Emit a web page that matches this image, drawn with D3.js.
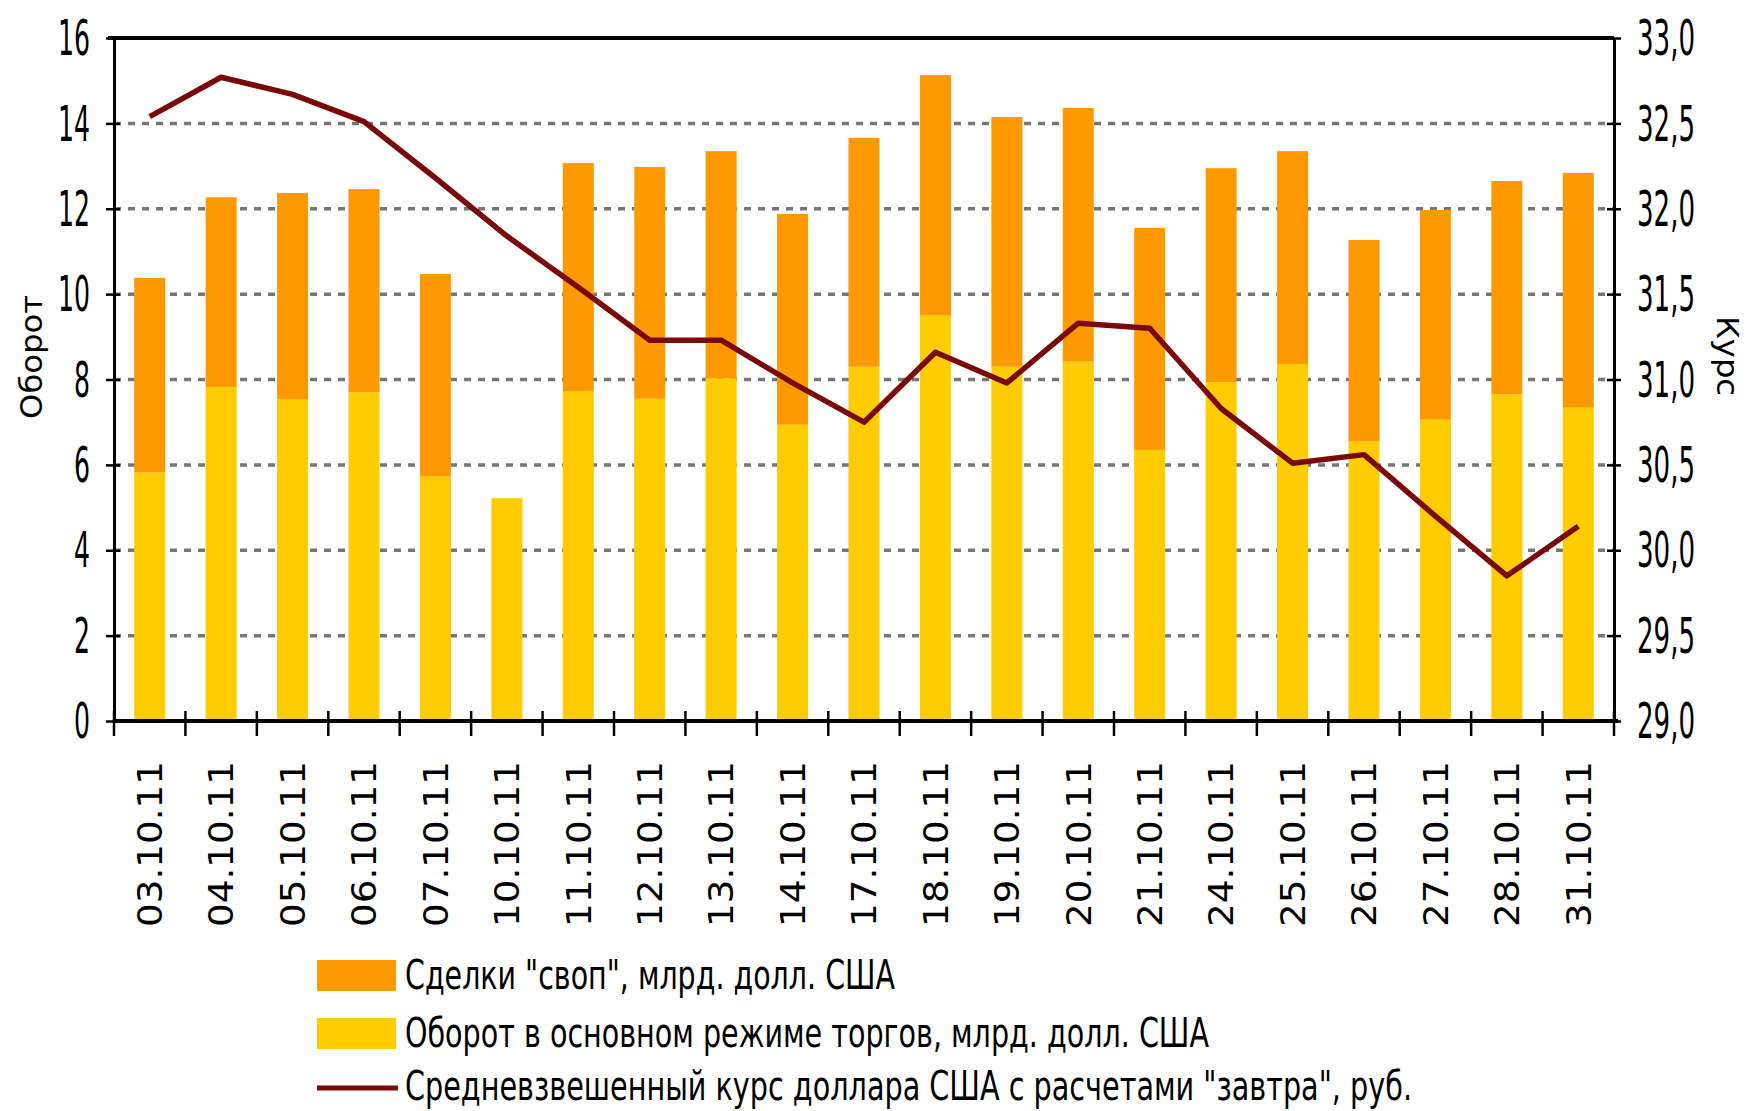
<!DOCTYPE html>
<html>
<head>
<meta charset="utf-8">
<script src="https://cdn.jsdelivr.net/npm/d3@7"></script>
<style>
  html, body { margin: 0; padding: 0; background: #fff; }
  svg { display: block; }
</style>
</head>
<body>
<div id="chart"></div>
<script>
// даты торгов
const dates = ["03.10.11","04.10.11","05.10.11","06.10.11","07.10.11","10.10.11","11.10.11",
  "12.10.11","13.10.11","14.10.11","17.10.11","18.10.11","19.10.11","20.10.11","21.10.11",
  "24.10.11","25.10.11","26.10.11","27.10.11","28.10.11","31.10.11"];

// оборот в основном режиме, млрд. долл.
const mainTurnover = [5.82, 7.82, 7.53, 7.70, 5.73, 5.22, 7.72, 7.55, 8.03, 6.94, 8.30,
  9.50, 8.30, 8.42, 6.35, 7.94, 8.36, 6.55, 7.06, 7.65, 7.34];

// сделки своп, млрд. долл.
const swapDeals = [4.56, 4.45, 4.84, 4.76, 4.74, 0, 5.35, 5.43, 5.32, 4.94, 5.36,
  5.63, 5.85, 5.94, 5.20, 5.01, 4.99, 4.72, 4.91, 5.00, 5.50];

// средневзвешенный курс, руб.
const rate = [32.54, 32.77, 32.67, 32.51, 32.18, 31.84, 31.54, 31.23, 31.23, 30.98, 30.75,
  31.16, 30.98, 31.33, 31.30, 30.83, 30.51, 30.56, 30.20, 29.85, 30.14];

const leftTicks = [0, 2, 4, 6, 8, 10, 12, 14, 16];
const rightTicks = [29, 29.5, 30, 30.5, 31, 31.5, 32, 32.5, 33];

const legendLabels = [
  'Сделки "своп", млрд. долл. США',
  'Оборот в основном режиме торгов, млрд. долл. США',
  'Средневзвешенный курс доллара США с расчетами "завтра", руб.'
];

const width = 1749, height = 1111;
const x0 = 114, x1 = 1614, yTop = 38, yBot = 721;
const cSwap = "#ff9900", cMain = "#ffcc00", cLine = "#7a0a0a";
const narrow = "'DejaVu Sans Condensed', 'Liberation Sans Narrow', sans-serif";
const sans = "'DejaVu Sans', Verdana, sans-serif";

const svg = d3.select("#chart").append("svg")
  .attr("width", width)
  .attr("height", height);

svg.append("rect").attr("width", width).attr("height", height).attr("fill", "#fff");

const pad = 1 - 31 / (1500 / dates.length);
const x = d3.scaleBand().domain(dates).range([x0, x1])
  .paddingInner(pad).paddingOuter(pad / 2);
const yL = d3.scaleLinear().domain([0, 16]).range([yBot, yTop]);
const yR = d3.scaleLinear().domain([29, 33]).range([yBot, yTop]);

// сетка
svg.append("g").selectAll("line")
  .data(leftTicks.filter(d => d > 0 && d < 16))
  .enter().append("line")
  .attr("x1", x0).attr("x2", x1)
  .attr("y1", d => yL(d)).attr("y2", d => yL(d))
  .attr("stroke", "#767676")
  .attr("stroke-width", 3.5)
  .attr("stroke-dasharray", "7,7");

// столбцы
const rows = dates.map((d, i) => ({ date: d, main: mainTurnover[i], swap: swapDeals[i] }));
const bars = svg.append("g");
bars.selectAll("rect.main")
  .data(rows)
  .enter().append("rect")
  .attr("class", "main")
  .attr("x", d => x(d.date))
  .attr("width", x.bandwidth())
  .attr("y", d => yL(d.main))
  .attr("height", d => yL(0) - yL(d.main))
  .attr("fill", cMain);
bars.selectAll("rect.swap")
  .data(rows.filter(d => d.swap > 0))
  .enter().append("rect")
  .attr("class", "swap")
  .attr("x", d => x(d.date))
  .attr("width", x.bandwidth())
  .attr("y", d => yL(d.main + d.swap))
  .attr("height", d => yL(d.main) - yL(d.main + d.swap))
  .attr("fill", cSwap);

// линия курса
const line = d3.line()
  .x((d, i) => x(dates[i]) + x.bandwidth() / 2)
  .y(d => yR(d));
svg.append("path")
  .datum(rate)
  .attr("d", line)
  .attr("fill", "none")
  .attr("stroke", cLine)
  .attr("stroke-width", 5.5)
  .attr("stroke-linejoin", "round");

// рамка сверху
svg.append("line")
  .attr("x1", x0 - 6).attr("x2", x1)
  .attr("y1", yTop).attr("y2", yTop)
  .attr("stroke", "#000").attr("stroke-width", 4);

// левая ось
const gL = svg.append("g")
  .attr("transform", `translate(${x0},0)`)
  .call(d3.axisLeft(yL).tickValues(leftTicks).tickSizeInner(8).tickSizeOuter(0).tickPadding(16));
gL.select(".domain").attr("stroke-width", 3);
gL.selectAll(".tick line").attr("x1", 6).attr("stroke-width", 2.5);
gL.selectAll(".tick text")
  .attr("font-family", narrow).attr("font-size", 28).attr("fill", "#000")
  .attr("dy", "0.33em")
  .attr("transform", "scale(1,1.8)");

// правая ось
const gR = svg.append("g")
  .attr("transform", `translate(${x1},0)`)
  .call(d3.axisRight(yR).tickValues(rightTicks).tickSizeInner(7).tickSizeOuter(0).tickPadding(16)
    .tickFormat(d => d3.format(".1f")(d).replace(".", ",")));
gR.select(".domain").attr("stroke-width", 3);
gR.selectAll(".tick line").attr("x1", -7).attr("stroke-width", 2.5);
gR.selectAll(".tick text")
  .attr("font-family", narrow).attr("font-size", 28).attr("fill", "#000")
  .attr("dy", "0.33em")
  .attr("textLength", 58).attr("lengthAdjust", "spacingAndGlyphs")
  .attr("transform", "scale(1,1.8)");

// нижняя ось
const gB = svg.append("g")
  .attr("transform", `translate(0,${yBot})`)
  .call(d3.axisBottom(x).tickSize(0).tickPadding(0));
gB.select(".domain").remove();
gB.selectAll(".tick text")
  .attr("font-family", sans)
  .attr("font-size", 34)
  .attr("fill", "#000")
  .attr("text-anchor", "end")
  .attr("textLength", 166)
  .attr("lengthAdjust", "spacingAndGlyphs")
  .attr("x", -40).attr("y", 0).attr("dy", "0.36em")
  .attr("transform", "rotate(-90)");

svg.append("line")
  .attr("x1", x0).attr("x2", x1 + 4)
  .attr("y1", yBot).attr("y2", yBot)
  .attr("stroke", "#000").attr("stroke-width", 4);
svg.append("g").selectAll("line")
  .data(d3.range(dates.length + 1))
  .enter().append("line")
  .attr("x1", i => x0 + i * x.step()).attr("x2", i => x0 + i * x.step())
  .attr("y1", yBot - 10).attr("y2", yBot + 15)
  .attr("stroke", "#000").attr("stroke-width", 2.5);

// подписи осей
svg.append("text")
  .attr("transform", "translate(31,357) rotate(-90)")
  .attr("text-anchor", "middle")
  .attr("dy", "0.35em")
  .attr("font-family", sans)
  .attr("font-size", 31)
  .attr("textLength", 124).attr("lengthAdjust", "spacingAndGlyphs")
  .text("Оборот");
svg.append("text")
  .attr("transform", "translate(1728,356) rotate(90)")
  .attr("text-anchor", "middle")
  .attr("dy", "0.35em")
  .attr("font-family", sans)
  .attr("font-size", 31)
  .attr("textLength", 80).attr("lengthAdjust", "spacingAndGlyphs")
  .text("Курс");

// легенда
const legend = svg.append("g");
const legY = [975, 1033, 1086];
const legW = [490, 804, 1007];
legend.append("rect").attr("x", 317).attr("y", 960).attr("width", 79).attr("height", 31).attr("fill", cSwap);
legend.append("rect").attr("x", 317).attr("y", 1018).attr("width", 79).attr("height", 31).attr("fill", cMain);
legend.append("line").attr("x1", 317).attr("x2", 398).attr("y1", 1088).attr("y2", 1088)
  .attr("stroke", cLine).attr("stroke-width", 5);
legend.selectAll("text")
  .data(legendLabels)
  .enter().append("text")
  .attr("transform", (d, i) => `translate(405,${legY[i]}) scale(1,1.25)`)
  .attr("dy", "0.36em")
  .attr("font-family", narrow)
  .attr("font-size", 32)
  .attr("textLength", (d, i) => legW[i])
  .attr("lengthAdjust", "spacingAndGlyphs")
  .text(d => d);
</script>
</body>
</html>
